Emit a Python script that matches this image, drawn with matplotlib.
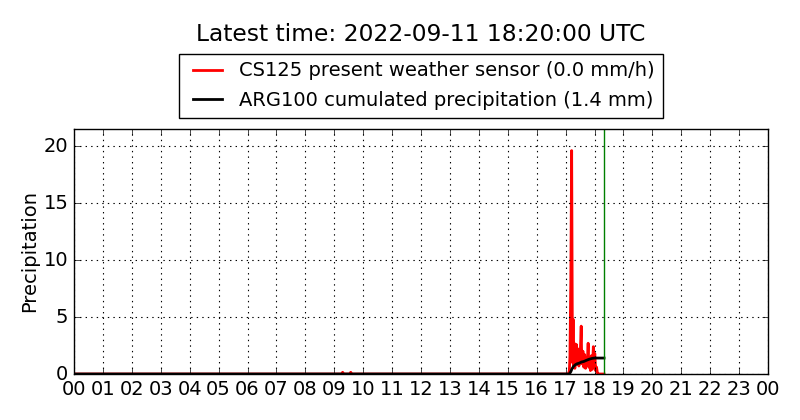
import matplotlib
matplotlib.use("Agg")
import matplotlib.pyplot as plt

plt.style.use("classic")

# Data (time in decimal hours UTC)
red_t = [0.0, 9.25, 9.29, 9.33, 9.53, 9.57, 9.61, 17.10, 17.13, 17.15, 17.18, 17.21, 17.23,
         17.24, 17.26, 17.28, 17.30, 17.32, 17.35, 17.37, 17.40, 17.43, 17.46, 17.48, 17.51,
         17.54, 17.56, 17.60, 17.63, 17.66, 17.69, 17.72, 17.75, 17.78, 17.80, 17.83,
         17.86, 17.89, 17.92, 17.94, 17.96, 17.98, 18.01, 18.04, 18.07, 18.10, 18.13, 18.33]
red_v = [0.0, 0.0, 0.15, 0.0, 0.0, 0.15, 0.0, 0.0, 0.3, 1.5, 8.0, 19.6, 6.0,
         1.0, 4.8, 0.6, 2.7, 0.5, 1.6, 2.6, 0.9, 2.2, 0.7, 1.3, 2.0,
         4.2, 0.9, 2.0, 0.6, 1.7, 0.5, 1.4, 0.8, 2.7, 0.6, 1.1,
         0.3, 1.6, 0.4, 1.2, 2.4, 0.7, 1.8, 0.3, 0.6, 0.1, 0.0, 0.0]

blk_t = [0.0, 17.13, 17.18, 17.22, 17.27, 17.33, 17.40, 17.47, 17.55, 17.63, 17.72, 17.82, 17.92, 18.00, 18.33]
blk_v = [0.0, 0.0, 0.2, 0.45, 0.65, 0.8, 0.9, 0.95, 1.05, 1.1, 1.2, 1.3, 1.37, 1.4, 1.4]

latest_t = 18 + 20 / 60
title = "Latest time: 2022-09-11 18:20:00 UTC"
red_label = "CS125 present weather sensor (0.0 mm/h)"
blk_label = "ARG100 cumulated precipitation (1.4 mm)"
xtick_labels = ["%02d" % (h % 24) for h in range(25)]

fig = plt.figure(figsize=(8, 4.2), dpi=100, facecolor="white")
ax = fig.add_axes([0.0925, 0.1095, 0.8675, 0.5835])
ax.plot(red_t, red_v, color="red", lw=2, label=red_label)
ax.plot(blk_t, blk_v, color="black", lw=2, label=blk_label)
ax.axvline(latest_t, color="green", lw=1)
ax.set_xlim(0, 24)
ax.set_ylim(0, 21.5)
ax.set_xticks(range(25))
ax.set_xticklabels(xtick_labels, fontsize=14)
ax.set_yticks([0, 5, 10, 15, 20])
ax.tick_params(axis="y", labelsize=14)
ax.set_ylabel("Precipitation", fontsize=14, labelpad=3.5)
ax.grid(True, color="black", linestyle=":", lw=0.8)
leg = ax.legend(loc="lower center", bbox_to_anchor=(0.5, 1.045), fontsize=14,
                fancybox=False, borderaxespad=0, handlelength=2.1, borderpad=0.4,
                labelspacing=0.55, handletextpad=0.6)
fig.text(0.526, 0.917, title, ha="center", va="center", fontsize=16.8)
fig.savefig("out.png", dpi=100, facecolor="white")
